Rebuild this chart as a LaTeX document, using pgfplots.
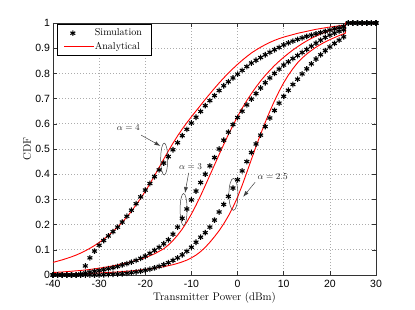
\documentclass[border=0pt]{standalone}
\usepackage{fontspec}
\usepackage{pgfplots}
\pgfplotsset{compat=1.18}
\usetikzlibrary{arrows.meta}
\newfontfamily\tickfont{Liberation Sans}
\definecolor{anared}{RGB}{255,0,0}
\tikzset{
  sim/.style={only marks, mark=asterisk, mark size=2.8pt, draw=black, color=black, line width=1.1pt},
  ana/.style={color=anared, draw=anared, line width=0.9pt, no marks},
}

\pgfplotstableread{
x y
-40 0
-39 0
-38 0
-37 0
-36 0
-35 0
-34 0
-33 0.036
-32 0.068
-31 0.095
-30 0.118
-29 0.137
-28 0.155
-27 0.172
-26 0.190
-25 0.210
-24 0.233
-23 0.257
-22 0.283
-21 0.310
-20 0.337
-19 0.363
-18 0.390
-17 0.417
-16 0.444
-15 0.470
-14 0.497
-13 0.525
-12 0.553
-11 0.578
-10 0.603
-9 0.626
-8 0.649
-7 0.672
-6 0.692
-5 0.712
-4 0.732
-3 0.751
-2 0.767
-1 0.782
0 0.797
1 0.812
2 0.827
3 0.841
4 0.852
5 0.863
6 0.874
7 0.884
8 0.894
9 0.903
10 0.913
11 0.921
12 0.928
13 0.935
14 0.941
15 0.947
16 0.952
17 0.957
18 0.962
19 0.967
20 0.972
21 0.977
22 0.981
23 0.986
24 1
25 1
26 1
27 1
28 1
29 1
30 1
}\simfour

\pgfplotstableread{
x y
-40 0
-39 0
-38 0
-37 0
-36 0
-35 0
-34 0.004
-33 0.008
-32 0.012
-31 0.015
-30 0.018
-29 0.021
-28 0.025
-27 0.029
-26 0.034
-25 0.040
-24 0.045
-23 0.051
-22 0.058
-21 0.066
-20 0.075
-19 0.086
-18 0.098
-17 0.110
-16 0.124
-15 0.140
-14 0.162
-13 0.190
-12 0.225
-11 0.262
-10 0.298
-9 0.333
-8 0.367
-7 0.400
-6 0.433
-5 0.466
-4 0.500
-3 0.535
-2 0.567
-1 0.597
0 0.625
1 0.650
2 0.675
3 0.698
4 0.720
5 0.742
6 0.763
7 0.782
8 0.800
9 0.817
10 0.833
11 0.846
12 0.859
13 0.871
14 0.883
15 0.895
16 0.908
17 0.920
18 0.932
19 0.943
20 0.952
21 0.960
22 0.967
23 0.973
24 1
25 1
26 1
27 1
28 1
29 1
30 1
}\simthree

\pgfplotstableread{
x y
-40 0
-39 0
-38 0
-37 0
-36 0
-35 0
-34 0
-33 0
-32 0
-31 0
-30 0
-29 0.001
-28 0.002
-27 0.003
-26 0.004
-25 0.005
-24 0.007
-23 0.009
-22 0.012
-21 0.015
-20 0.019
-19 0.023
-18 0.028
-17 0.034
-16 0.041
-15 0.049
-14 0.058
-13 0.068
-12 0.080
-11 0.094
-10 0.110
-9 0.130
-8 0.150
-7 0.168
-6 0.190
-5 0.218
-4 0.250
-3 0.280
-2 0.312
-1 0.345
0 0.378
1 0.413
2 0.450
3 0.486
4 0.520
5 0.555
6 0.589
7 0.623
8 0.653
9 0.682
10 0.709
11 0.733
12 0.756
13 0.777
14 0.798
15 0.818
16 0.838
17 0.857
18 0.874
19 0.890
20 0.905
21 0.919
22 0.932
23 0.945
24 1
25 1
26 1
27 1
28 1
29 1
30 1
}\simtwofive

\pgfplotstableread{
x y
-40 0.050
-39 0.055
-38 0.060
-37 0.066
-36 0.072
-35 0.079
-34 0.087
-33 0.096
-32 0.106
-31 0.117
-30 0.129
-29 0.142
-28 0.157
-27 0.173
-26 0.190
-25 0.209
-24 0.230
-23 0.253
-22 0.278
-21 0.304
-20 0.332
-19 0.362
-18 0.394
-17 0.427
-16 0.460
-15 0.492
-14 0.523
-13 0.552
-12 0.579
-11 0.604
-10 0.628
-9 0.651
-8 0.674
-7 0.697
-6 0.719
-5 0.741
-4 0.762
-3 0.782
-2 0.801
-1 0.819
0 0.836
1 0.852
2 0.867
3 0.881
4 0.893
5 0.904
6 0.914
7 0.923
8 0.931
9 0.938
10 0.944
11 0.949
12 0.954
13 0.959
14 0.963
15 0.967
16 0.971
17 0.975
18 0.978
19 0.981
20 0.984
21 0.986
22 0.989
23 0.991
23.4 0.992
23.4 1
30 1
}\anafour

\pgfplotstableread{
x y
-40 0.010
-38 0.012
-36 0.015
-34 0.018
-32 0.022
-30 0.027
-28 0.033
-26 0.040
-24 0.048
-22 0.058
-20 0.069
-18 0.084
-16 0.104
-15 0.119
-14 0.137
-13 0.158
-12 0.182
-11 0.210
-10 0.242
-9 0.277
-8 0.315
-7 0.355
-6 0.396
-5 0.437
-4 0.478
-3 0.518
-2 0.557
-1 0.594
0 0.629
1 0.662
2 0.692
3 0.720
4 0.746
5 0.770
6 0.792
7 0.812
8 0.831
9 0.848
10 0.864
11 0.879
12 0.893
13 0.906
14 0.918
15 0.929
16 0.939
17 0.948
18 0.956
19 0.963
20 0.970
21 0.976
22 0.981
23 0.986
23.4 0.988
23.4 1
30 1
}\anathree

\pgfplotstableread{
x y
-40 0.002
-38 0.003
-36 0.004
-34 0.005
-32 0.006
-30 0.008
-28 0.010
-26 0.012
-24 0.015
-22 0.018
-20 0.022
-18 0.027
-16 0.033
-15 0.037
-14 0.041
-13 0.046
-12 0.052
-11 0.059
-10 0.068
-9 0.079
-8 0.093
-7 0.110
-6 0.130
-5 0.152
-4 0.176
-3 0.203
-2 0.234
-1 0.269
0 0.309
1 0.356
2 0.407
3 0.459
4 0.510
5 0.559
6 0.606
7 0.650
8 0.691
9 0.729
10 0.763
11 0.793
12 0.819
13 0.842
14 0.861
15 0.877
16 0.891
17 0.904
18 0.915
19 0.925
20 0.934
21 0.942
22 0.950
23 0.957
23.4 0.960
23.4 1
30 1
}\anatwofive

\begin{document}
\begin{tikzpicture}
\path[use as bounding box] (-53pt,-35pt) rectangle (362pt,275pt);
\begin{axis}[
  at={(0,0)}, anchor=south west,
  scale only axis, width=323pt, height=252pt,
  xmin=-40, xmax=30, ymin=0, ymax=1,
  xtick={-40,-30,-20,-10,0,10,20,30},
  xticklabels={-40,-30,-20,-10,0,10,20,30},
  ytick={0,0.1,0.2,0.3,0.4,0.5,0.6,0.7,0.8,0.9,1},
  yticklabels={0,0.1,0.2,0.3,0.4,0.5,0.6,0.7,0.8,0.9,1},
  tick label style={font=\tickfont\fontsize{10.5}{12}\selectfont},
  xticklabel style={yshift=-2pt},
  yticklabel style={xshift=0.5pt},
  tick align=inside, major tick length=4pt,
  tick style={black!80, line width=0.5pt},
  xmajorgrids, ymajorgrids,
  grid style={dash pattern=on 0.7pt off 2.3pt, gray!65, line width=0.6pt},
  axis line style={black!80, line width=0.6pt},
  xlabel={Transmitter Power (dBm)}, ylabel={CDF},
  label style={font=\fontsize{11}{13}\selectfont},
  xlabel style={at={(axis description cs:0.5,-0.091)}, anchor=center},
  ylabel style={at={(axis description cs:-0.08,0.5)}, anchor=center},
  legend style={at={(0.012,0.996)}, anchor=north west,
    font=\fontsize{10}{12}\selectfont, draw=none, fill=white, name=leg,
    inner xsep=7pt, inner ysep=2.5pt, row sep=0pt,
    nodes={inner ysep=2.2pt}},
  legend cell align=left,
]
\addlegendimage{only marks, mark=asterisk, mark size=2.8pt, black, line width=1.1pt}
\addlegendentry{Simulation}
\addlegendimage{legend image code/.code={\fill[anared] (0cm,-0.42pt) rectangle (1cm,0.42pt);}}
\addlegendentry{Analytical}
\addplot[sim, forget plot] table {\simfour};
\addplot[ana, forget plot] table {\anafour};
\addplot[sim, forget plot] table {\simthree};
\addplot[sim, forget plot] table {\simtwofive};
\addplot[ana, forget plot] table {\anathree};
\addplot[ana, forget plot] table {\anatwofive};

\draw[black!75, line width=0.5pt] (axis cs:-15.9,0.46) ellipse [x radius=3.5pt, y radius=16pt];
\draw[black!75, line width=0.5pt] (axis cs:-11.7,0.26) ellipse [x radius=3.5pt, y radius=16pt];
\draw[black!75, line width=0.5pt] (axis cs:-0.9,0.32) ellipse [x radius=4.5pt, y radius=16pt];

\node[font=\fontsize{9.5}{10}\selectfont, black!85] at (axis cs:-23.7,0.585) {$\alpha = 4$};
\node[font=\fontsize{9.5}{10}\selectfont, black!85] at (axis cs:-10.2,0.43) {$\alpha = 3$};
\node[font=\fontsize{9.5}{10}\selectfont, black!85] at (axis cs:7.6,0.39) {$\alpha = 2.5$};

\draw[black!75, line width=0.5pt, -{Latex[length=6pt,width=4pt]}] (axis cs:-20.9,0.555) -- (axis cs:-16.7,0.512);
\draw[black!75, line width=0.5pt, -{Latex[length=6pt,width=4pt]}] (axis cs:-10.6,0.405) -- (axis cs:-11.4,0.325);
\draw[black!75, line width=0.5pt, -{Latex[length=6pt,width=4pt]}] (axis cs:3.8,0.368) -- (axis cs:1.2,0.31);
\end{axis}
\draw[black, line width=0.6pt] (leg.south west) rectangle (leg.north east);
\end{tikzpicture}
\end{document}
